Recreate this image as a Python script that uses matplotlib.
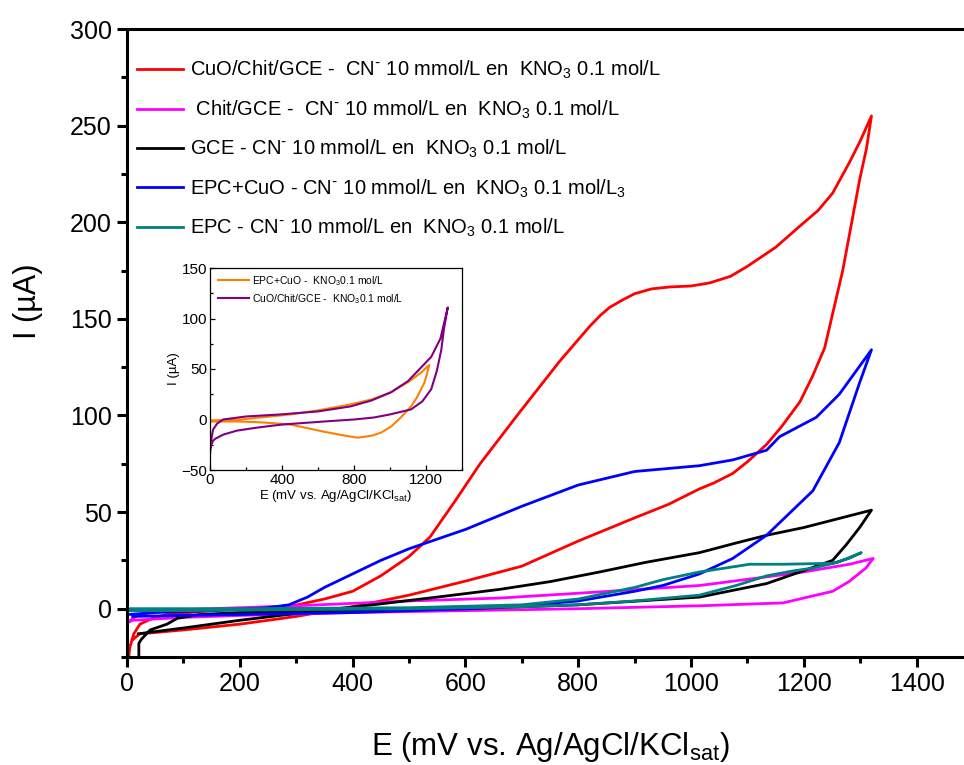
import numpy as np
import matplotlib
matplotlib.use("Agg")
import matplotlib.pyplot as plt
from matplotlib.ticker import MultipleLocator

plt.rcParams['font.family'] = ['Liberation Sans', 'DejaVu Sans']
plt.rcParams['mathtext.default'] = 'regular'

# main plot: cyclic voltammograms, forward scan then reverse scan (E in mV, I in uA)
red_E = [3, 5, 12, 23, 45, 71, 150, 294, 350, 400, 450, 500, 537, 580, 626, 697, 767, 820, 840, 856, 880, 900,
         930, 962, 1000, 1033, 1070, 1099, 1150, 1193, 1225, 1251, 1281, 1300, 1320,
         1311, 1299, 1285, 1269, 1253, 1237, 1215, 1193, 1160, 1134, 1100, 1074, 1040, 1015, 960, 900, 800, 700,
         603, 500, 400, 300, 200, 100, 23, 10]
red_I = [-25, -20, -13, -8, -5, -3, -1, 1.5, 5, 9, 17, 27, 37, 55, 75, 102, 128, 146, 152, 156, 160, 163,
         165.5, 166.5, 167, 168.6, 172, 177, 187, 198, 206, 215, 231, 242, 255,
         238, 222, 200, 175, 155, 135, 120, 107, 94, 85, 76, 70, 65, 62, 54, 47, 35, 22,
         14.5, 7, 1, -4, -8, -11, -13, -16]

mag_E = [2, 15, 40, 100, 300, 500, 661, 800, 1015, 1193, 1281, 1323,
         1310, 1280, 1251, 1163, 1015, 800, 600, 400, 200, 100, 40, 10, 2]
mag_I = [-7, -4, -2, -0.5, 1.5, 4, 5.5, 8, 12, 18.7, 23, 26,
         21, 14, 9, 3, 1.5, 0, -1, -2, -3.5, -4.5, -5.5, -6, -7]

blk_E = [20, 100, 200, 342, 450, 550, 661, 750, 838, 920, 1015, 1080, 1134, 1200, 1260, 1320,
         1299, 1275, 1251, 1193, 1134, 1015, 800, 600, 400, 200, 129, 89, 71, 41, 25, 21, 21]
blk_I = [-13, -10, -6, -1, 2.5, 6, 10, 14, 19, 24, 29, 34, 38, 42, 46.5, 51,
         42, 33, 25, 19, 13, 6, 2, 0, -1, -2, -3, -5, -8, -11, -16, -18, -30]

blu_E = [2, 50, 150, 250, 287, 320, 350, 400, 450, 500, 550, 600, 700, 800, 900, 1015, 1074, 1134, 1157,
         1222, 1263, 1320,
         1299, 1263, 1216, 1134, 1074, 1015, 950, 900, 800, 700, 600, 500, 400, 300, 200, 100, 10]
blu_I = [-3, -2, -1, 0.5, 2, 6, 11, 18, 25, 31, 36, 41, 53, 64, 71, 74, 77, 82, 89,
         99, 111, 134,
         117, 86, 61, 38, 26, 18, 12, 9, 4, 1.5, 0, -1, -2, -2.5, -3, -3.5, -4]

tea_E = [0, 100, 300, 500, 700, 800, 900, 1015, 1080, 1134, 1180, 1216, 1260, 1302,
         1280, 1251, 1163, 1104, 1060, 1015, 950, 900, 850, 800, 700, 500, 200, 0]
tea_I = [-1, -1, -0.5, 0, 1, 2, 4, 7, 12, 17, 19.5, 21, 24, 29,
         26, 23.5, 23, 23, 21, 19, 15, 11, 8, 5, 2, 0.5, 0, 0]

main_labels = [
    'CuO/Chit/GCE -  CN$^{\\text{-}}$ 10 mmol/L en  KNO$_3$ 0.1 mol/L',
    ' Chit/GCE -  CN$^{\\text{-}}$ 10 mmol/L en  KNO$_3$ 0.1 mol/L',
    'GCE - CN$^{\\text{-}}$ 10 mmol/L en  KNO$_3$ 0.1 mol/L',
    'EPC+CuO - CN$^{\\text{-}}$ 10 mmol/L en  KNO$_3$ 0.1 mol/L$_3$',
    'EPC - CN$^{\\text{-}}$ 10 mmol/L en  KNO$_3$ 0.1 mol/L',
]

# inset: blank electrolyte
org_E = [0, 168, 447, 600, 782, 900, 1006, 1100, 1170, 1218,
         1205, 1190, 1150, 1117, 1060, 1006, 950, 900, 821, 750, 631, 447, 300, 168, 50, 0]
org_I = [-1, 0, 5, 9, 15, 20, 27, 37, 46, 54,
         45, 36, 22, 13, 2, -7, -13, -16, -18, -16, -12, -5, -3, -2, -2, -2]

pur_E = [0, 5, 17, 40, 73, 200, 391, 600, 782, 900, 1006, 1100, 1229, 1280, 1321,
         1300, 1285, 1260, 1229, 1180, 1117, 1000, 911, 800, 631, 400, 263, 150, 73, 30, 17, 5, 0]
pur_I = [-35, -22, -10, -4, 0, 3, 5, 8, 13, 19, 27, 38, 62, 80, 111,
         90, 69, 48, 30, 18, 10, 5, 2, 0, -2, -5, -8, -11, -15, -19, -21, -26, -30]

inset_labels = ['EPC+CuO -  KNO$_3$0.1 mol/L', 'CuO/Chit/GCE -  KNO$_3$0.1 mol/L']

fig = plt.figure(figsize=(9.64, 7.65), dpi=100)
ax = fig.add_axes([127 / 964, 108 / 765, 846 / 964, 628 / 765])

lw = 2.0
ax.plot(red_E, red_I, color='#ff0000', lw=lw, label=main_labels[0])
ax.plot(mag_E, mag_I, color='#ff00ff', lw=lw, label=main_labels[1])
ax.plot(blk_E, blk_I, color='#000000', lw=lw, label=main_labels[2])
ax.plot(blu_E, blu_I, color='#0000ff', lw=lw, label=main_labels[3])
ax.plot(tea_E, tea_I, color='#008080', lw=lw, label=main_labels[4])

ax.set_xlim(0, 1500)
ax.set_ylim(-25, 300)
ax.xaxis.set_major_locator(MultipleLocator(200))
ax.xaxis.set_minor_locator(MultipleLocator(100))
ax.yaxis.set_major_locator(MultipleLocator(50))
ax.yaxis.set_minor_locator(MultipleLocator(25))
for s in ['left', 'bottom', 'top']:
    ax.spines[s].set_linewidth(2.2)
ax.spines['right'].set_visible(False)
ax.tick_params(which='major', direction='out', length=7, width=2.2, labelsize=18, pad=4)
ax.tick_params(which='minor', direction='out', length=4, width=2.2)
ax.set_xlabel('E (mV vs. Ag/AgCl/KCl$_{sat}$)', fontsize=22.5, va='top')
ax.xaxis.set_label_coords(0.5, -0.117)
ax.set_ylabel('I (µA)', fontsize=22, va='center')
ax.yaxis.set_label_coords(-0.117, 0.567)

ax.legend(loc='upper left', bbox_to_anchor=(0.012, 0.952), frameon=False, fontsize=14.5,
          handlelength=2.3, handletextpad=0.3, labelspacing=0.85, borderpad=0, borderaxespad=0)

# inset
ins = fig.add_axes([210 / 964, 295 / 765, 252 / 964, 202 / 765])
ins.plot(org_E, org_I, color='#ff8000', lw=1.5, label=inset_labels[0])
ins.plot(pur_E, pur_I, color='#800080', lw=1.5, label=inset_labels[1])
ins.set_xlim(0, 1400)
ins.set_ylim(-50, 150)
ins.xaxis.set_major_locator(MultipleLocator(400))
ins.xaxis.set_minor_locator(MultipleLocator(200))
ins.yaxis.set_major_locator(MultipleLocator(50))
ins.yaxis.set_minor_locator(MultipleLocator(25))
for s in ins.spines.values():
    s.set_linewidth(0.9)
ins.tick_params(which='major', direction='in', length=3.5, width=0.9, labelsize=11, pad=2)
ins.tick_params(which='minor', direction='in', length=2, width=0.9)
ins.set_xlabel('E (mV vs. Ag/AgCl/KCl$_{sat}$)', fontsize=9.5, labelpad=1)
ins.set_ylabel('I (µA)', fontsize=9.5, labelpad=1)
ins.legend(loc='upper left', bbox_to_anchor=(0.03, 0.97), frameon=False, fontsize=7.5,
           handlelength=3.0, handletextpad=0.3, labelspacing=0.4, borderpad=0, borderaxespad=0)

fig.savefig('out.png', dpi=100)
